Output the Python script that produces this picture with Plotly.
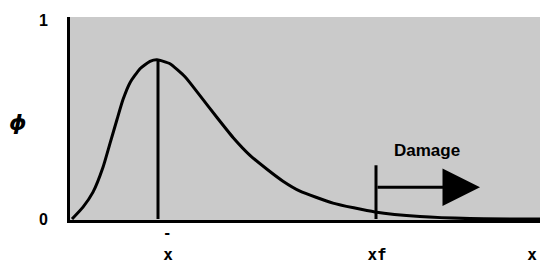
import plotly.graph_objects as go

# curve (x in plot units, phi 0..1)
curve_x = [2, 13, 23, 33, 40, 47, 53, 60, 70, 80, 87, 100, 115, 130, 147, 163, 180, 197, 213, 230, 263, 305, 350, 400, 478]
curve_y = [0, 0.06, 0.135, 0.26, 0.38, 0.50, 0.60, 0.685, 0.755, 0.792, 0.80, 0.78, 0.715, 0.62, 0.51, 0.41, 0.32, 0.25, 0.19, 0.14, 0.08, 0.035, 0.012, 0.002, 0.0]

xbar_x = [88, 88]
xbar_y = [0, 0.80]
xf_x = [306, 306]
xf_y = [0, 0.27]
arrow_start = [306, 0.16]
arrow_end = [410, 0.16]
damage_pos = [357, 0.345]
damage_label = "Damage"

x_tickvals = [98, 307, 462]
x_ticktext = ["x", "xf", "x"]
xbar_mark_x = 97
y_tickvals = [0, 1]
y_ticktext = ["0", "1"]

fig = go.Figure()
fig.add_trace(go.Scatter(x=curve_x, y=curve_y, mode="lines",
                         line=dict(color="black", width=3, shape="spline", smoothing=0.5),
                         hoverinfo="skip"))
fig.add_trace(go.Scatter(x=xbar_x, y=xbar_y, mode="lines", line=dict(color="black", width=3)))
fig.add_trace(go.Scatter(x=xf_x, y=xf_y, mode="lines", line=dict(color="black", width=3)))

fig.add_annotation(x=arrow_end[0], y=arrow_end[1], ax=arrow_start[0], ay=arrow_start[1],
                   xref="x", yref="y", axref="x", ayref="y", text="", showarrow=True,
                   arrowhead=2, arrowsize=2.5, arrowwidth=3, arrowcolor="black")
fig.add_annotation(x=damage_pos[0], y=damage_pos[1], xref="x", yref="y", text="<b>" + damage_label + "</b>",
                   showarrow=False, font=dict(family="Liberation Sans", size=17, color="black"))
# phi axis label
fig.add_annotation(x=-0.132, y=0.48, xref="paper", yref="paper", text="<b><i>ϕ</i></b>", showarrow=False,
                   font=dict(family="DejaVu Sans", size=22, color="black"))
# bar over the mean label
fig.add_annotation(x=xbar_mark_x, y=-0.115, xref="x", yref="paper", text="<b>-</b>", showarrow=False,
                   font=dict(family="DejaVu Sans Mono", size=14, color="black"))

# page body has an 8px margin, so the figure is sized to fit the 548x265 window
fig.update_layout(
    width=540, height=257,
    margin=dict(l=62, r=0, t=9, b=45),
    paper_bgcolor="white", plot_bgcolor="#cacaca",
    showlegend=False,
    xaxis=dict(range=[0, 478], tickvals=x_tickvals, ticktext=x_ticktext, showgrid=False, zeroline=False,
               showline=True, linewidth=3, linecolor="black", ticks="", ticklabelstandoff=18,
               tickfont=dict(family="DejaVu Sans Mono", size=16, color="black", weight="bold")),
    yaxis=dict(range=[-0.005, 1.015], tickvals=y_tickvals, ticktext=y_ticktext, showgrid=False, zeroline=False,
               showline=True, linewidth=3, linecolor="black", ticks="", ticklabelstandoff=16,
               tickfont=dict(family="Liberation Sans", size=16, color="black", weight="bold")),
)

fig.write_html("out.html")
